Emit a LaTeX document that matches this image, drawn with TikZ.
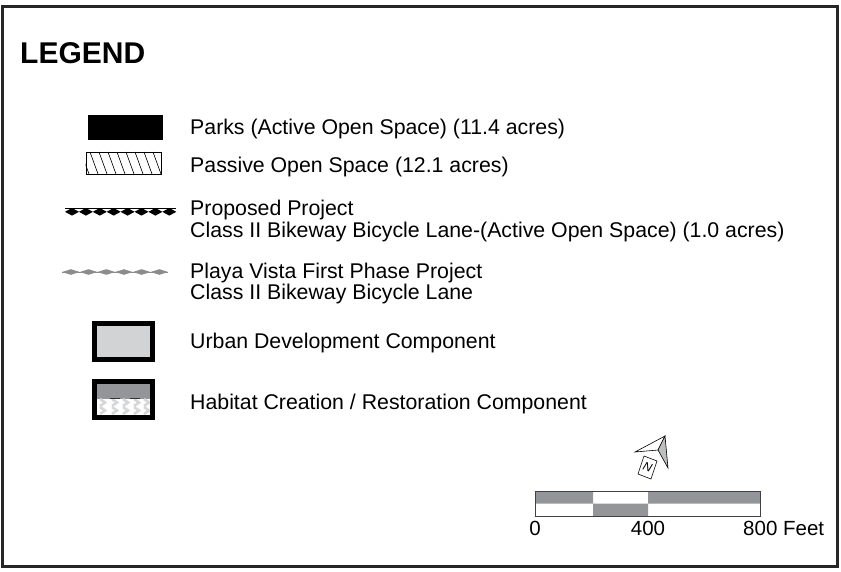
\documentclass[tikz,border=0pt]{standalone}
\usepackage{fontspec}
\setmainfont{Liberation Sans}
\usetikzlibrary{positioning,calc}

\definecolor{bargray}{HTML}{939598}
\definecolor{lightgray}{HTML}{D1D3D4}
\definecolor{arrowgray}{HTML}{BCBEC0}
\definecolor{wavegray}{HTML}{D6D7D8}
\definecolor{bikegray}{HTML}{8A8C8E}

\begin{document}
\begin{tikzpicture}[x=1pt, y=-1pt,
      entry/.style={anchor=base west, inner sep=0pt, font=\fontsize{21.3}{24}\selectfont},
      scalenum/.style={anchor=base, inner sep=0pt, font=\fontsize{20.5}{24}\selectfont},
      parksbox/.style={fill=black, minimum width=75pt, minimum height=25pt, inner sep=0pt},
      passivebox/.style={draw, line width=0.6pt, minimum width=75pt, minimum height=22pt, inner sep=0pt},
      compbox/.style={draw, line width=5pt, minimum width=58pt, minimum height=36pt, inner sep=0pt}]
    \useasboundingbox (0,0) rectangle (841,571);
    \draw[line width=3pt, draw=black!85] (2.5,6.5) rectangle (837.5,566.5);
    \node (LEGEND) [anchor=base west, inner sep=0pt, font=\fontsize{30}{36}\selectfont\bfseries] at (20,63) {LEGEND};

    \node (parks) [parksbox] at (125.5,127.5) {};
    \node (parksText) [entry] at (190,134.5) {Parks (Active Open Space) (11.4 acres)};

    \node (passive) [passivebox] at (123.5,163) {};
    \begin{scope}
      \clip (passive.north west) rectangle (passive.south east);
      \foreach \x in {81,90,...,160}
        \draw[line width=0.6pt] (\x,152) -- ++(8,22);
    \end{scope}
    \node (passiveText) [entry] at (190,172.5) {Passive Open Space (12.1 acres)};

    \draw[line width=0.7pt] (65,208) -- (176,208);
    \foreach \i in {0,...,7}
      \fill ($(72,208)+(13.9*\i,0)$) -- ++(7,3.8) -- ++(-7,3.8) -- ++(-7,-3.8) -- cycle;
    \node (proposed) [entry] at (190,215.5) {Proposed Project};
    \node (proposedLane) [entry] at (190,237.5) {Class II Bikeway Bicycle Lane-(Active Open Space) (1.0 acres)};

    \draw[bikegray, line width=0.7pt] (62,272) -- (168,272);
    \foreach \i in {0,...,5}
      \fill[bikegray] ($(62,272)+(17.7*\i,0)$) -- ++(8.85,-2.8) -- ++(8.85,2.8) -- ++(-8.85,2.8) -- cycle;
    \node (playa) [entry] at (190,278.5) {Playa Vista First Phase Project};
    \node (playaLane) [entry] at (190,299.5) {Class II Bikeway Bicycle Lane};

    \node (urban) [compbox, fill=lightgray] at (123.5,341.5) {};
    \node (urbanText) [entry] at (190,348.5) {Urban Development Component};

    % habitat symbol: marsh over a wave band
    \fill[bargray] (97,384) rectangle (150,399);
    \foreach \x in {103,115,126,137,147}
      \foreach \y in {402.5,410.5}
        \draw[wavegray, line width=2.6pt] (\x-3,\y-3.5) -- (\x+2,\y) -- (\x-3,\y+3.5);
    \draw[black!80, line width=1.2pt] (110,398.5) -- (120,398.5) (130,398.5) -- (140,398.5);
    \node (habitat) [compbox] at (123.5,399) {};
    \node (habitatText) [entry] at (190,409.5) {Habitat Creation / Restoration Component};

    % north arrow
    \draw[line width=0.6pt, fill=white] (665,436) -- (635,452) -- (658,450) -- cycle;
    \draw[line width=0.6pt, fill=arrowgray] (665,436) -- (658,450) -- (668,468) -- cycle;
    \draw[line width=0.6pt, fill=white] (644,456) -- (638,474) -- (651,479) -- (657,461) -- cycle;
    \node (north) [inner sep=0pt, rotate=-20, font=\fontsize{12}{14}\selectfont\itshape] at (647.5,467.5) {N};

    % scale bar
    \fill[bargray] (535,491) rectangle (593,503.5) (648,491) rectangle (760,503.5) (593,503.5) rectangle (648,516);
    \draw[line width=0.8pt, draw=black!75] (535,491) rectangle (760,516);
    \node (zero) [scalenum] at (535,535) {0};
    \node (mid) [scalenum] at (648,535) {400};
    \node (feet) [scalenum, anchor=base west] at (743,535) {800 Feet};
\end{tikzpicture}
\end{document}
